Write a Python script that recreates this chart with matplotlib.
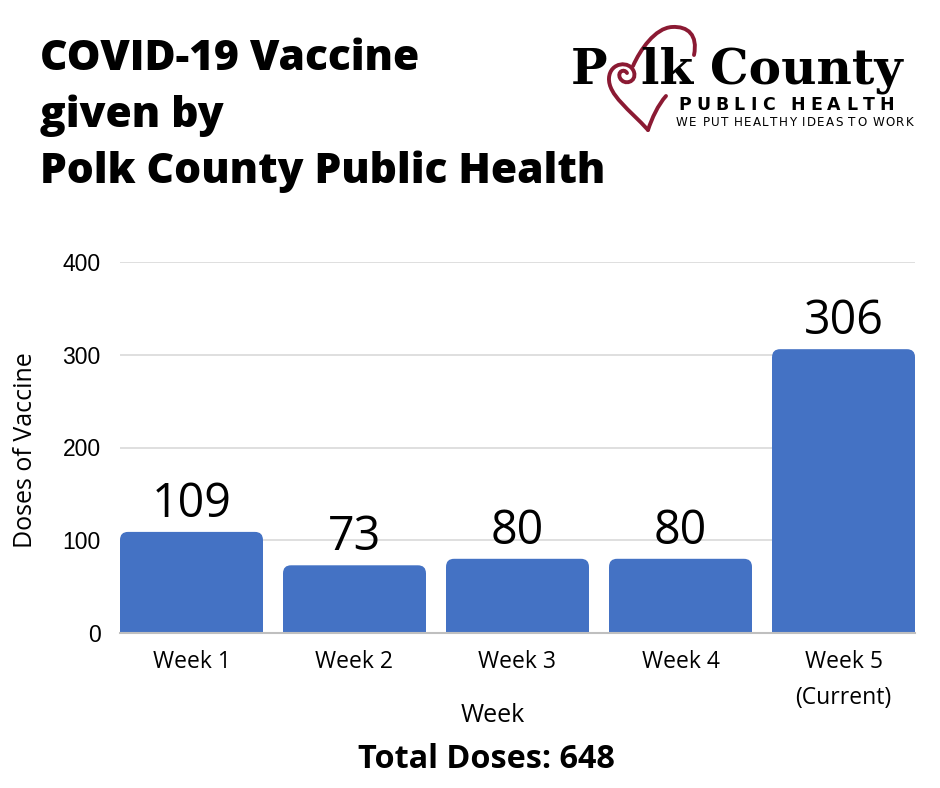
import matplotlib.pyplot as plt
from matplotlib.patches import FancyBboxPatch, Rectangle, PathPatch
from matplotlib.path import Path

weeks = ["Week 1", "Week 2", "Week 3", "Week 4", "Week 5\n(Current)"]
doses = [109, 73, 80, 80, 306]
total = 648
yticks = [0, 100, 200, 300, 400]

W, H = 940, 788
BAR_COLOR = "#4472C4"
LOGO_RED = "#8B1A33"
SANS = ["Open Sans", "DejaVu Sans"]


def fx(x):
    return x / W


def fy(y):
    return 1 - y / H


def tracked_text(fig, x, y, s, tracking, **kw):
    # matplotlib has no letter spacing, so lay the letters out one by one
    r = fig.canvas.get_renderer()
    for ch in s:
        if ch == " ":
            x += kw["fontsize"] * 0.32 * 100 / 72 + tracking
            continue
        t = fig.text(fx(x), fy(y), ch, ha="left", va="baseline", **kw)
        x += t.get_window_extent(r).width + tracking


fig = plt.figure(figsize=(W / 100, H / 100), dpi=100)
fig.patch.set_facecolor("white")

# axes placed to match the reference pixels
ax = fig.add_axes([fx(120), fy(633), (915 - 120) / W, (633 - 262) / H])
bw = 0.877
ax.set_xlim(-bw / 2, len(weeks) - 1 + bw / 2)
ax.set_ylim(0, 400)

bars = ax.bar(range(len(weeks)), doses, width=bw, color=BAR_COLOR, zorder=3)

# rounded top corners: swap each bar for a rounded box + square bottom
x_per_px = (ax.get_xlim()[1] - ax.get_xlim()[0]) / (915 - 120)
y_per_px = 400 / (633 - 262)
r_px = 8
for b in bars:
    x0, w, h = b.get_x(), b.get_width(), b.get_height()
    b.set_visible(False)
    ax.add_patch(FancyBboxPatch((x0, 0), w, h,
                                boxstyle=f"round,pad=0,rounding_size={r_px * x_per_px}",
                                mutation_aspect=y_per_px / x_per_px,
                                facecolor=BAR_COLOR, edgecolor="none", zorder=3))
    ax.add_patch(Rectangle((x0, 0), w, h - r_px * y_per_px, facecolor=BAR_COLOR,
                           edgecolor="none", zorder=3))
    ax.annotate(f"{int(h)}", (x0 + w / 2, h), xytext=(0, 3),
                textcoords="offset points", ha="center", va="bottom",
                fontsize=33.5, family=SANS, color="black", zorder=4)

ax.set_yticks(yticks)
ax.set_yticklabels([str(t) for t in yticks], family="Liberation Sans", fontsize=16.5)
ax.set_xticks(range(len(weeks)))
ax.set_xticklabels(weeks, family=SANS, fontsize=16.5, linespacing=1.7)
ax.tick_params(axis="y", length=0, pad=14)
ax.tick_params(axis="x", length=0, pad=12)
ax.grid(axis="y", color="#d9d9d9", linewidth=1.2, zorder=0)
for s in ["top", "right", "left"]:
    ax.spines[s].set_visible(False)
ax.spines["bottom"].set_color("#bfbfbf")
ax.spines["bottom"].set_linewidth(1.5)
ax.spines["bottom"].set_zorder(5)

fig.text(fx(493), fy(716), "Week", ha="center", va="center", fontsize=18, family=SANS)
fig.text(fx(26), fy(450), "Doses of Vaccine", ha="center", va="center",
         rotation=90, fontsize=18, family=SANS)
fig.text(fx(486), fy(760), f"Total Doses: {total}", ha="center", va="center",
         fontsize=23.3, fontweight="bold", family=SANS)

# title
for line, base in [("COVID-19 Vaccine", 70), ("given by", 127),
                   ("Polk County Public Health", 183)]:
    fig.text(fx(40), fy(base), line, ha="left", va="baseline", fontsize=30.6,
             fontweight="heavy", family=SANS, color="black")

# logo
fig.text(fx(571), fy(84), "P", ha="left", va="baseline", fontsize=35,
         fontweight="bold", family="DejaVu Serif", color="black", zorder=3)
fig.text(fx(641), fy(84), "lk County", ha="left", va="baseline", fontsize=35,
         fontweight="bold", family="DejaVu Serif", color="black", zorder=3)

C4, MV = Path.CURVE4, Path.MOVETO
strokes = [
    # left lobe ending in the spiral that stands for the "o"
    [(648, 130), (630, 110), (608, 95), (609, 78), (610, 62), (630, 60), (634, 72),
     (637, 82), (624, 86), (620, 78), (617, 72), (624, 68), (627, 73)],
    # top arc of the heart
    [(633, 66), (640, 50), (655, 28), (672, 27), (688, 26), (698, 35), (694, 55)],
    # lower right side
    [(648, 130), (652, 118), (658, 105), (666, 96)],
]
for pts in strokes:
    p = Path([(fx(x), fy(y)) for x, y in pts], [MV] + [C4] * (len(pts) - 1))
    fig.add_artist(PathPatch(p, transform=fig.transFigure, facecolor="none",
                             edgecolor=LOGO_RED, linewidth=2.8, capstyle="round",
                             zorder=1))

tracked_text(fig, 678, 110, "PUBLIC HEALTH", 5.2, fontsize=12.5,
             fontweight="bold", family="DejaVu Sans", color="black")
tracked_text(fig, 676, 126, "WE PUT HEALTHY IDEAS TO WORK", 1.2, fontsize=8.6,
             family="DejaVu Sans", color="black")

fig.savefig("out.png", dpi=100)
